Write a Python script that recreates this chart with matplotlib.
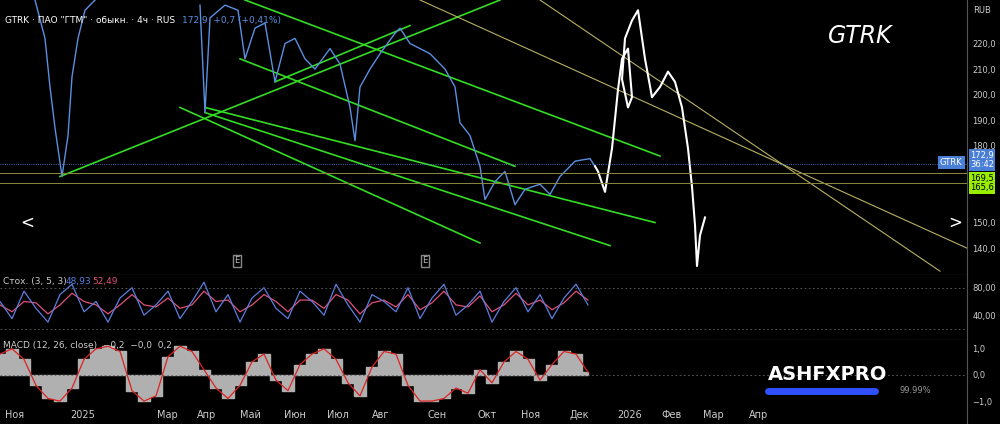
import matplotlib
matplotlib.use("Agg")
import matplotlib.pyplot as plt
import numpy as np

# x positions are in "chart units" (0..967 across plot width)
price_x = [35,45,50,55,62,68,72,78,85,95,200,205,210,225,238,245,255,265,275,285,295,305,315,330,340,350,355,360,370,380,395,400,410,430,445,455,460,470,480,485,495,505,515,525,540,550,560,575,590,595]
price_y = [237,222,203,187,168,184,207,222,233,237,235,193,230,235,233,214,226,228,205,220,222,214,210,218,212,195,182,203,210,216,224,226,220,216,210,203,189,184,172,159,166,170,157,163,165,161,168,174,175,172]
sketch_x = [595,598,605,612,618,622,628,632,628,622,625,632,638,645,652,660,668,675,682,688,692,695,697,700,705]
sketch_y = [172,170,162,179,202,214,218,199,195,206,222,229,233,214,199,203,209,205,195,179,164,149,133,145,152]
green_lines = [((60,168),(500,237)),((245,237),(660,176)),((240,214),(515,172)),((180,195),(480,142)),
               ((205,193),(610,141)),((205,195),(655,150)),((275,205),(410,227))]
yellow_lines = [((420,237),(967,140)),((540,237),(940,131))]
levels_blue = 172.9
levels_green = [169.5, 165.6]
price_ticks = [140,150,180,190,200,210,220]
stoch_x = list(range(0, 600, 12))
stoch_k = [60,35,75,50,30,70,85,45,60,30,65,80,40,55,75,35,60,88,45,70,30,65,80,50,35,75,60,40,85,55,30,70,60,45,80,35,65,85,40,55,75,30,60,80,45,70,35,65,85,55]
stoch_d = [55,45,60,58,42,55,72,60,55,42,55,70,55,52,65,50,55,75,60,62,45,55,70,60,45,62,62,50,70,62,42,58,62,52,70,48,58,75,55,52,68,45,55,72,55,62,48,58,75,62]
macd_x = list(range(0, 600, 12))
macd_v = [0.8,1.0,0.6,-0.4,-0.9,-1.0,-0.5,0.6,1.0,1.1,0.9,-0.6,-1.0,-0.8,0.7,1.1,0.9,0.2,-0.5,-0.9,-0.4,0.5,0.8,-0.2,-0.6,0.4,0.8,1.0,0.6,-0.3,-0.8,0.3,0.9,0.8,-0.4,-1.0,-1.0,-0.9,-0.5,-0.7,0.2,-0.3,0.5,0.9,0.6,-0.2,0.4,0.9,0.8,0.1]
month_pos = [5,70,157,197,240,284,327,372,428,477,521,570,617,661,703,749]
month_lab = ["Ноя","2025","Мар","Апр","Май","Июн","Июл","Авг","Сен","Окт","Ноя","Дек","2026","Фев","Мар","Апр"]

fig = plt.figure(figsize=(10,4.24), dpi=100, facecolor="black")
W, H = 1000, 424
def ax_at(top, bot):
    a = fig.add_axes([0, 1-bot/H, 967/W, (bot-top)/H], facecolor="black")
    a.set_xlim(0, 967)
    for s in a.spines.values(): s.set_visible(False)
    a.yaxis.tick_right()
    a.tick_params(colors="#cccccc", labelsize=6, length=0, pad=4)
    a.set_xticks([])
    return a
fig.add_artist(plt.Line2D([967/W,967/W],[0,1],color="#555555",lw=0.8))
ax = ax_at(0, 275)
ax.set_ylim(129.5, 237)
ax.set_yticks(price_ticks)
ax.set_yticklabels([f"{v},0" for v in price_ticks])
for (x0,y0),(x1,y1) in green_lines:
    ax.plot([x0,x1],[y0,y1],color="#33dd22",lw=1.2)
for (x0,y0),(x1,y1) in yellow_lines:
    ax.plot([x0,x1],[y0,y1],color="#b8b060",lw=0.8)
ax.plot(price_x[:10],price_y[:10],color="#5b8fe0",lw=1)
ax.plot(price_x[10:],price_y[10:],color="#5b8fe0",lw=1)
ax.plot(sketch_x,sketch_y,color="white",lw=1.5)
ax.axhline(levels_blue,color="#5b8fe0",lw=0.6,ls=":")
for l in levels_green: ax.axhline(l,color="#8a8a40",lw=0.7)
ax.text(5,228,'GTRK · ПАО "ГТМ" · обыкн. · 4ч · RUS',color="white",fontsize=6.5)
ax.text(182,228,'172,9  +0,7 (+0,41%)',color="#5b8fe0",fontsize=6.5)
ax.text(828,220,"GTRK",color="white",fontsize=17,style="italic")
ax.text(973,232,"RUB",color="#cccccc",fontsize=6,clip_on=False)
ax.text(940,173.5,"GTRK",color="white",fontsize=6,va="center",bbox=dict(fc="#4a7fd8",ec="none",pad=1.5))
ax.text(970,174.5,"172,9\n36:42",color="white",fontsize=6,va="center",clip_on=False,linespacing=1.1,bbox=dict(fc="#4a7fd8",ec="none",pad=1))
ax.text(970,165.5,"169,5\n165,6",color="black",fontsize=6,va="center",clip_on=False,linespacing=1.1,bbox=dict(fc="#99ee00",ec="none",pad=1))
ax.text(20,150,"<",color="white",fontsize=12,va="center")
ax.text(948,150,">",color="white",fontsize=12,va="center")
for xe in [237,425]:
    ax.text(xe,134,"E",color="#bbbbbb",fontsize=6,ha="center",bbox=dict(fc="black",ec="#888888",pad=1))
ax.axhline(129.6,color="#888888",lw=0.8)

a2 = ax_at(276, 340)
a2.set_ylim(4, 97)
a2.set_yticks([40,80]); a2.set_yticklabels(["40,00","80,00"])
a2.plot(stoch_x,stoch_d,color="#e0507a",lw=0.9)
a2.plot(stoch_x,stoch_k,color="#5b7fe0",lw=0.9)
for l in [20,80]: a2.axhline(l,color="#666666",lw=0.6,ls=(0,(2,3)))
a2.text(3,86,"Стох. (3, 5, 3)",color="#cccccc",fontsize=6.5)
a2.text(66,86,"48,93",color="#5b7fe0",fontsize=6.5)
a2.text(92,86,"52,49",color="#e0507a",fontsize=6.5)
a2.axhline(4.2,color="#888888",lw=0.8)

a3 = ax_at(341, 405)
a3.set_ylim(-1.15, 1.3)
a3.set_yticks([-1,0,1]); a3.set_yticklabels(["−1,0","0,0","1,0"])
a3.fill_between(macd_x,0,macd_v,step="mid",color="#b0b0b0")
a3.plot(macd_x,macd_v,color="#dd2222",lw=0.9)
a3.axhline(0,color="#666666",lw=0.6,ls=(0,(2,3)))
a3.text(3,1.05,"MACD (12, 26, close)  −0,2  −0,0  0,2",color="#cccccc",fontsize=6.5)
a3.text(768,0.0,"ASHFXPRO",color="white",fontsize=14,fontweight="bold",va="center")
a3.plot([768,875],[-0.6,-0.6],color="#3050ff",lw=5,solid_capstyle="round")
a3.text(900,-0.6,"99.99%",color="#999999",fontsize=6,va="center")
for xp,lab in zip(month_pos,month_lab):
    fig.text(xp/W,1-415/H,lab,color="#cccccc",fontsize=7,va="center")
fig.savefig("out.png",facecolor="black")
